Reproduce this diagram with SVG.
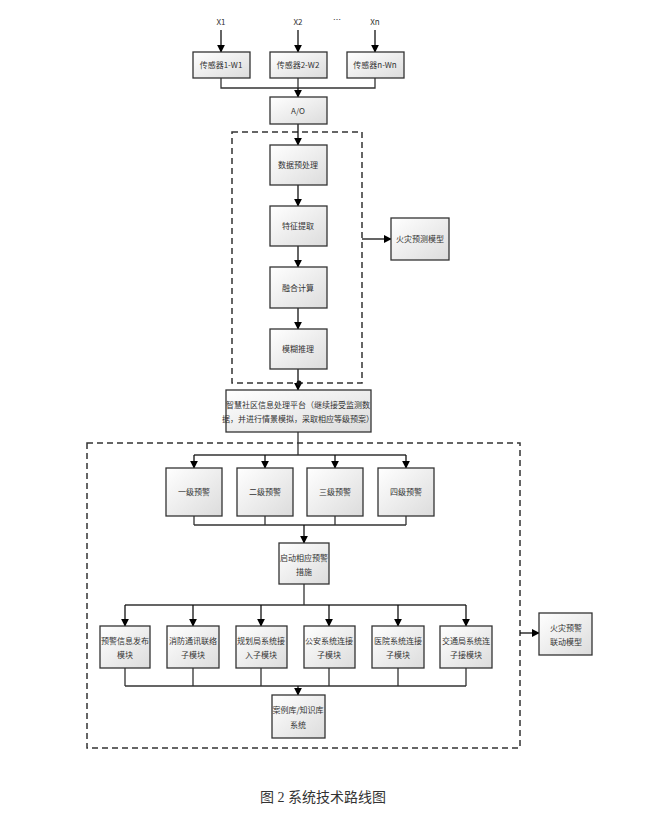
<svg xmlns="http://www.w3.org/2000/svg" width="646" height="823" viewBox="0 0 646 823">
<defs>
<linearGradient id="g" x1="0" y1="0" x2="1" y2="1"><stop offset="0" stop-color="#ffffff"/><stop offset="1" stop-color="#dcdcdc"/></linearGradient>
<marker id="a" viewBox="0 0 10 10" refX="9" refY="5" markerWidth="6" markerHeight="6" orient="auto"><path d="M0,0L10,5L0,10z" fill="#000"/></marker>
<style>
.b{fill:url(#g);stroke:#333;stroke-width:1.3}
.t{font-family:"Noto Sans CJK SC","Liberation Sans",sans-serif;font-size:8px;fill:#333;text-anchor:middle}
.l{fill:none;stroke:#333;stroke-width:1.3}
.ar{fill:none;stroke:#111;stroke-width:1.3;marker-end:url(#a)}
.d{fill:none;stroke:#333;stroke-width:1.5;stroke-dasharray:6,4}
</style>
</defs>
<rect width="646" height="823" fill="#fff"/>
<g id="labels">
<text class="t" x="221" y="25">X1</text><text class="t" x="298" y="25">X2</text><text class="t" x="337" y="23">…</text><text class="t" x="375" y="25">Xn</text>
</g>
<g id="frames"><rect class="d" x="232" y="132" width="130" height="251"/><rect class="d" x="87" y="443" width="433" height="305"/></g>
<g id="connectors">
<path class="ar" d="M221,30V52"/><path class="ar" d="M298,30V52"/><path class="ar" d="M375,30V52"/>
<path class="l" d="M221,78V88H375V78M298,78V88"/><path class="ar" d="M298,88V97"/>
<path class="ar" d="M298,124V145"/><path class="ar" d="M298,185V206"/><path class="ar" d="M298,246V267"/><path class="ar" d="M298,308V329"/>
<path class="ar" d="M362,239H391"/>
<path class="ar" d="M298,369V390"/><circle cx="299" cy="383" r="2.5" fill="#111"/>
<path class="l" d="M298,432V455M194,455H406"/>
<path class="ar" d="M194,455V468"/><path class="ar" d="M265,455V468"/><path class="ar" d="M335,455V468"/><path class="ar" d="M406,455V468"/>
<path class="l" d="M194,516V525M265,516V525M335,516V525M406,516V525M194,525H406"/><path class="ar" d="M304,525V543"/>
<path class="l" d="M304,584V605M125,605H466"/>
<path class="ar" d="M125,605V626"/><path class="ar" d="M193,605V626"/><path class="ar" d="M261,605V626"/><path class="ar" d="M329,605V626"/><path class="ar" d="M398,605V626"/><path class="ar" d="M466,605V626"/>
<path class="l" d="M125,668V686M193,668V686M261,668V686M329,668V686M398,668V686M466,668V686M125,686H466"/><path class="ar" d="M298,686V695"/>
<path class="ar" d="M520,633H539"/>
</g>
<g id="s1"><rect class="b" x="193" y="52" width="57" height="26"/><text class="t" x="221" y="68">传感器1-W1</text></g>
<g id="s2"><rect class="b" x="270" y="52" width="57" height="26"/><text class="t" x="298" y="68">传感器2-W2</text></g>
<g id="s3"><rect class="b" x="347" y="52" width="57" height="26"/><text class="t" x="375" y="68">传感器n-Wn</text></g>
<g id="ad"><rect class="b" x="270" y="97" width="57" height="27"/><text class="t" x="298" y="114">A/O</text></g>
<g id="n1"><rect class="b" x="270" y="145" width="57" height="40"/><text class="t" x="298" y="168">数据预处理</text></g>
<g id="n2"><rect class="b" x="270" y="206" width="57" height="40"/><text class="t" x="298" y="229">特征提取</text></g>
<g id="n3"><rect class="b" x="270" y="267" width="57" height="41"/><text class="t" x="298" y="291">融合计算</text></g>
<g id="n4"><rect class="b" x="270" y="329" width="57" height="40"/><text class="t" x="298" y="352">模糊推理</text></g>
<g id="fire"><rect class="b" x="391" y="218" width="58" height="42"/><text class="t" x="420" y="242">火灾预测模型</text></g>
<g id="plat"><rect class="b" x="226" y="390" width="145" height="42"/><text class="t" x="298" y="408">智慧社区信息处理平台（继续接受监测数</text><text class="t" x="298" y="422">据，并进行情景模拟，采取相应等级预案）</text></g>
<g id="l1"><rect class="b" x="166" y="468" width="56" height="48"/><text class="t" x="194" y="495">一级预警</text></g>
<g id="l2"><rect class="b" x="237" y="468" width="56" height="48"/><text class="t" x="265" y="495">二级预警</text></g>
<g id="l3"><rect class="b" x="307" y="468" width="56" height="48"/><text class="t" x="335" y="495">三级预警</text></g>
<g id="l4"><rect class="b" x="378" y="468" width="56" height="48"/><text class="t" x="406" y="495">四级预警</text></g>
<g id="start"><rect class="b" x="279" y="543" width="50" height="41"/><text class="t" x="304" y="561">启动相应预警</text><text class="t" x="304" y="575">措施</text></g>
<g id="m1"><rect class="b" x="100" y="626" width="50" height="42"/><text class="t" x="125" y="644">预警信息发布</text><text class="t" x="125" y="658">模块</text></g>
<g id="m2"><rect class="b" x="167" y="626" width="52" height="42"/><text class="t" x="193" y="644">消防通讯联络</text><text class="t" x="193" y="658">子模块</text></g>
<g id="m3"><rect class="b" x="236" y="626" width="51" height="42"/><text class="t" x="261" y="644">规划局系统接</text><text class="t" x="261" y="658">入子模块</text></g>
<g id="m4"><rect class="b" x="304" y="626" width="51" height="42"/><text class="t" x="329" y="644">公安系统连接</text><text class="t" x="329" y="658">子模块</text></g>
<g id="m5"><rect class="b" x="372" y="626" width="52" height="42"/><text class="t" x="398" y="644">医院系统连接</text><text class="t" x="398" y="658">子模块</text></g>
<g id="m6"><rect class="b" x="440" y="626" width="52" height="42"/><text class="t" x="466" y="644">交通局系统连</text><text class="t" x="466" y="658">子接模块</text></g>
<g id="case"><rect class="b" x="272" y="695" width="53" height="43"/><text class="t" x="298" y="713">案例库/知识库</text><text class="t" x="298" y="728">系统</text></g>
<g id="link"><rect class="b" x="539" y="613" width="53" height="42"/><text class="t" x="566" y="631">火灾预警</text><text class="t" x="566" y="645">联动模型</text></g>
<text x="323" y="802" font-family="Liberation Serif,'Noto Sans CJK SC',serif" font-size="14" fill="#333" text-anchor="middle">图 2 系统技术路线图</text>
</svg>
